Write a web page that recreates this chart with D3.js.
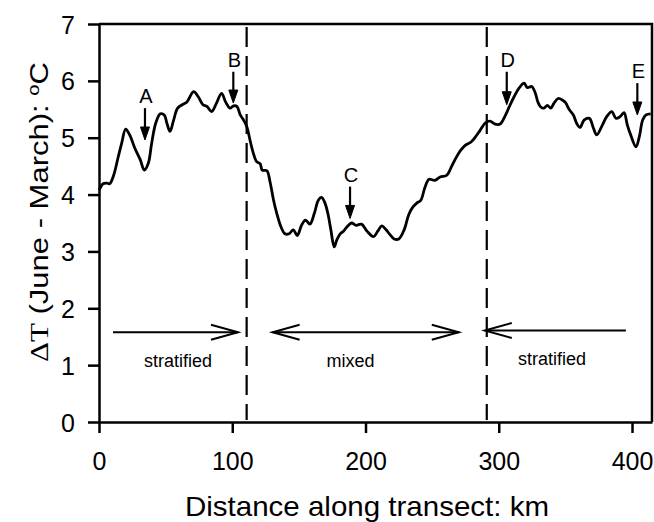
<!DOCTYPE html>
<html>
<head>
<meta charset="utf-8">
<script src="https://cdn.jsdelivr.net/npm/d3@7"></script>
<style>
  body { margin: 0; background: #fff; }
  text { font-family: "Liberation Sans", Arial, sans-serif; fill: #000; }
</style>
</head>
<body>
<div class="chart"></div>
<script>
// distance along transect (km) and temperature difference (degC)
var km = [0, 1, 3, 6, 8, 11, 14.5, 17, 20, 23, 27, 31, 34, 37, 39.5, 42.5, 46, 49, 51, 53.3,
  56, 59, 62.5, 66, 71, 74.5, 78, 81, 84.5, 88, 92, 95, 98.3, 101, 103.5, 106, 108.5, 111,
  113.3, 115.8, 118.3, 121, 122.5, 126, 128.3, 131, 133.4, 136.6, 139.6, 142.6, 145.8, 148.8,
  152, 155, 158.3, 161.6, 164.6, 167, 169.6, 172, 174, 176.5, 178.4, 181, 183.3, 186, 189.5,
  193, 197, 201, 206, 209.3, 212.2, 215.5, 218.2, 221.5, 225, 229, 232.5, 235.5, 238.5, 241.5,
  244.5, 247.7, 252, 256, 261, 264.7, 268, 271.5, 275, 279, 283, 286, 290, 293.4, 297.2, 301,
  304.7, 308, 311.5, 315.5, 319, 321.5, 324.7, 327.2, 329.5, 331.5, 334, 336.5, 339, 341.5,
  344.5, 348, 350, 353, 356, 358.5, 361, 364, 368, 371, 373.5, 377.3, 381, 384.8, 388, 391,
  394, 396.5, 399, 403, 405.5, 408, 410.5, 414];
var dT = [4.08, 4.12, 4.19, 4.20, 4.19, 4.34, 4.67, 4.90, 5.15, 5.05, 4.81, 4.61, 4.43, 4.55, 4.90, 5.25, 5.42, 5.40, 5.25, 5.11,
  5.31, 5.52, 5.58, 5.63, 5.81, 5.72, 5.58, 5.55, 5.46, 5.60, 5.78, 5.63, 5.52, 5.56, 5.55, 5.40, 5.31, 5.19,
  4.96, 4.73, 4.58, 4.54, 4.43, 4.42, 4.23, 3.90, 3.67, 3.43, 3.31, 3.31, 3.38, 3.28,
  3.46, 3.55, 3.48, 3.67, 3.90, 3.95, 3.85, 3.64, 3.38, 3.08, 3.20, 3.31, 3.35, 3.43, 3.50,
  3.46, 3.48, 3.36, 3.26, 3.36, 3.45, 3.38, 3.30, 3.22, 3.22, 3.38, 3.65, 3.78, 3.85, 3.90,
  4.12, 4.27, 4.25, 4.31, 4.34, 4.50, 4.65, 4.78, 4.87, 4.92, 5.03, 5.13, 5.26, 5.29, 5.24, 5.24,
  5.38, 5.55, 5.72, 5.88, 5.96, 5.88, 5.90, 5.80, 5.62, 5.54, 5.52, 5.57, 5.52, 5.61,
  5.69, 5.66, 5.62, 5.49, 5.40, 5.25, 5.18, 5.31, 5.34, 5.17, 5.05, 5.20, 5.37, 5.46, 5.34, 5.37,
  5.44, 5.22, 5.05, 4.84, 5.02, 5.31, 5.40, 5.42];

var xTicks = [0, 100, 200, 300, 400];
var yTicks = [0, 1, 2, 3, 4, 5, 6, 7];

// stratified / mixed boundaries (km)
var boundaries = [110.8, 291];

// lettered arrows: position, arrow tip and tail (degC)
var markLetters = ["A", "B", "C", "D", "E"];
var markKm = [34.5, 100.8, 188.4, 306, 404];
var markTip = [4.96, 5.61, 3.58, 5.58, 5.40];
var markTail = [5.52, 6.16, 4.14, 6.16, 5.96];

// region arrows: from -> to (km), two-headed when both
var regionNames = ["stratified", "mixed", "stratified"];
var regionLabelKm = [59.3, 188.7, 340];
var regionFrom = [10.5, 130.3, 395.4];
var regionTo = [104.3, 270, 289.5];
var regionBoth = [false, true, false];
var regionY = [1.58, 1.58, 1.61];
var regionLabelY = [0.96, 0.97, 1.0];

var width = 654, height = 522;
var margin = { top: 24, right: 2, bottom: 100, left: 99 };

var svg = d3.select(".chart").append("svg")
  .attr("width", width)
  .attr("height", height);

var x = d3.scaleLinear().domain([0, 415]).range([margin.left, width - margin.right]);
var y = d3.scaleLinear().domain([0, 7]).range([height - margin.bottom, margin.top]);

// frame top + right
svg.append("path")
  .attr("d", "M" + x(0) + "," + y(7) + "H" + x(415) + "V" + y(0))
  .attr("fill", "none").attr("stroke", "#000").attr("stroke-width", 2.5);

var xAxis = svg.append("g")
  .attr("transform", "translate(0," + y(0) + ")")
  .call(d3.axisBottom(x).tickValues(xTicks).tickFormat(d3.format("d"))
    .tickSize(11).tickSizeOuter(0).tickPadding(19));
var yAxis = svg.append("g")
  .attr("transform", "translate(" + x(0) + ",0)")
  .call(d3.axisLeft(y).tickValues(yTicks).tickFormat(d3.format("d"))
    .tickSize(11).tickSizeOuter(0).tickPadding(13));

[xAxis, yAxis].forEach(function(g) {
  g.select(".domain").attr("stroke-width", 2.5);
  g.selectAll(".tick line").attr("stroke-width", 2.5);
  g.selectAll(".tick text")
    .style("font-family", "'Liberation Sans', Arial, sans-serif")
    .style("font-size", "25px");
});
yAxis.selectAll(".tick text").attr("dy", "0.36em");

// dashed boundaries
svg.selectAll(".boundary")
  .data(boundaries)
  .enter().append("line")
  .attr("class", "boundary")
  .attr("x1", function(d) { return x(d); })
  .attr("x2", function(d) { return x(d); })
  .attr("y1", y(7) + 3)
  .attr("y2", y(0) - 2)
  .attr("stroke", "#000")
  .attr("stroke-width", 2.2)
  .attr("stroke-dasharray", "20,9");

// main curve
var pts = km.map(function(k, i) { return [k, dT[i]]; });
var line = d3.line()
  .x(function(d) { return x(d[0]); })
  .y(function(d) { return y(d[1]); })
  .curve(d3.curveCatmullRom.alpha(0.5));

svg.append("path")
  .datum(pts)
  .attr("d", line)
  .attr("fill", "none")
  .attr("stroke", "#000")
  .attr("stroke-width", 2.8)
  .attr("stroke-linejoin", "round");

// lettered arrows
markLetters.forEach(function(letter, i) {
  var px = x(markKm[i]), tip = y(markTip[i]), tail = y(markTail[i]);
  svg.append("line")
    .attr("x1", px).attr("x2", px)
    .attr("y1", tail).attr("y2", tip - 8)
    .attr("stroke", "#000").attr("stroke-width", 2.2);
  svg.append("path")
    .attr("d", "M" + (px - 4.5) + "," + (tip - 13) + "L" + px + "," + tip + "L" + (px + 4.5) + "," + (tip - 13) + "Z")
    .attr("fill", "#000").attr("stroke", "#000").attr("stroke-width", 1);
  svg.append("text")
    .attr("x", px + 1)
    .attr("y", tail - 5)
    .attr("text-anchor", "middle")
    .style("font-size", "20px")
    .text(letter);
});

// region arrows
function head(px, py, dir) {
  return "M" + (px - dir * 27) + "," + (py - 7.5) + "L" + px + "," + py + "L" + (px - dir * 27) + "," + (py + 7.5);
}
regionNames.forEach(function(name, i) {
  var x1 = x(regionFrom[i]), x2 = x(regionTo[i]), py = y(regionY[i]);
  var dir = x2 > x1 ? 1 : -1;
  svg.append("line")
    .attr("x1", x1).attr("x2", x2)
    .attr("y1", py).attr("y2", py)
    .attr("stroke", "#000").attr("stroke-width", 2);
  svg.append("path").attr("d", head(x2, py, dir))
    .attr("fill", "none").attr("stroke", "#000").attr("stroke-width", 2);
  if (regionBoth[i]) {
    svg.append("path").attr("d", head(x1, py, -dir))
      .attr("fill", "none").attr("stroke", "#000").attr("stroke-width", 2);
  }
  svg.append("text")
    .attr("x", x(regionLabelKm[i]))
    .attr("y", y(regionLabelY[i]))
    .attr("text-anchor", "middle")
    .style("font-size", "18px")
    .text(name);
});

// axis titles
svg.append("text")
  .attr("x", 367)
  .attr("y", 516)
  .attr("text-anchor", "middle")
  .attr("textLength", 364)
  .attr("lengthAdjust", "spacingAndGlyphs")
  .style("font-size", "28px")
  .text("Distance along transect: km");

var yt = svg.append("text")
  .attr("transform", "translate(48," + 212 + ") rotate(-90)")
  .attr("text-anchor", "middle")
  .attr("textLength", 300)
  .attr("lengthAdjust", "spacingAndGlyphs")
  .style("font-size", "26px");
yt.append("tspan").style("font-family", "'Liberation Serif', 'Times New Roman', serif").text("\u0394T");
yt.append("tspan").text(" (June - March): ");
yt.append("tspan").attr("dy", -9).style("font-size", "17px").text("o");
yt.append("tspan").attr("dy", 9).text("C");
</script>
</body>
</html>
